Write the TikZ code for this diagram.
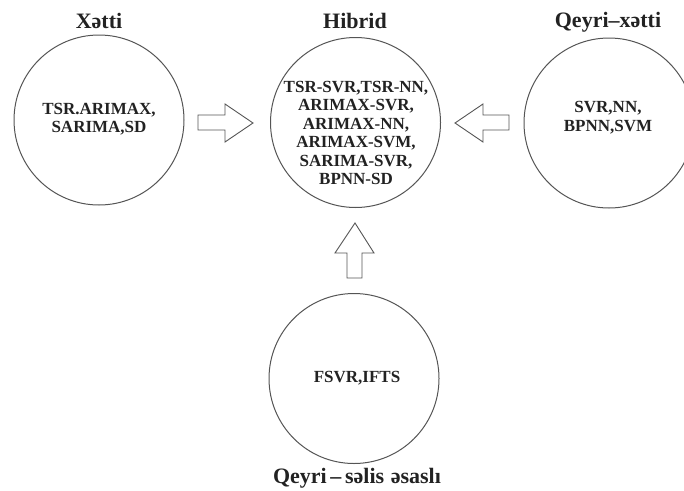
\documentclass[tikz,border=0pt]{standalone}
\usepackage{fontspec}
\setmainfont{Liberation Serif}
\usetikzlibrary{shapes.geometric}
\definecolor{linegray}{HTML}{555555}
\definecolor{textdark}{HTML}{222222}
\begin{document}
\begin{tikzpicture}[x=1pt,y=-1pt,
  ring/.style={circle,draw=linegray,line width=1pt,minimum size=170pt,inner sep=0pt},
  body/.style={align=center,text=textdark,font=\fontsize{17}{18.5}\selectfont\bfseries},
  title/.style={text=textdark,font=\fontsize{22}{24}\selectfont\bfseries},
  blockarrow/.style={draw=linegray,line width=0.9pt,line join=miter,fill=white}]
\useasboundingbox (0,0) rectangle (684,490);
\clip (0,0) rectangle (684,490);
% circles
\node[ring] (lin) at (99,120) {};
\node[ring] (hyb) at (355.5,122.5) {};
\node[ring] (nonlin) at (609,123) {};
\node[ring] (fuzzy) at (354,378.5) {};
% titles
\node[title] (tlin) at (99,21) {Xətti};
\node[title] (thyb) at (355,21) {Hibrid};
\node[title] (tnonlin) at (608,22) {Qeyri–xətti};
\node[title] (tfuzzy) at (357,478) {Qeyri\,–\,səlis\hspace{0.3em}əsaslı};
% texts
\node[body] (blin) at (99,119) {TSR.ARIMAX,\\SARIMA,SD};
\node[body] (bhyb) at (356,133) {TSR-SVR,TSR-NN,\\ARIMAX-SVR,\\ARIMAX-NN,\\ARIMAX-SVM,\\SARIMA-SVR,\\BPNN-SD};
\node[body] (bnonlin) at (608,117.5) {SVR,NN,\\BPNN,SVM};
\node[body] (bfuzzy) at (357,378) {FSVR,IFTS};
% block arrows
\draw[blockarrow] (198,115) -- (225,115) -- (225,104) -- (253,123) -- (225,142) -- (225,130) -- (198,130) -- cycle;
\draw[blockarrow] (509,115) -- (483,115) -- (483,104) -- (455,123) -- (483,142) -- (483,130) -- (509,130) -- cycle;
\draw[blockarrow] (347,278) -- (347,253) -- (335,253) -- (355,223) -- (374,253) -- (362,253) -- (362,278) -- cycle;
\end{tikzpicture}
\end{document}
